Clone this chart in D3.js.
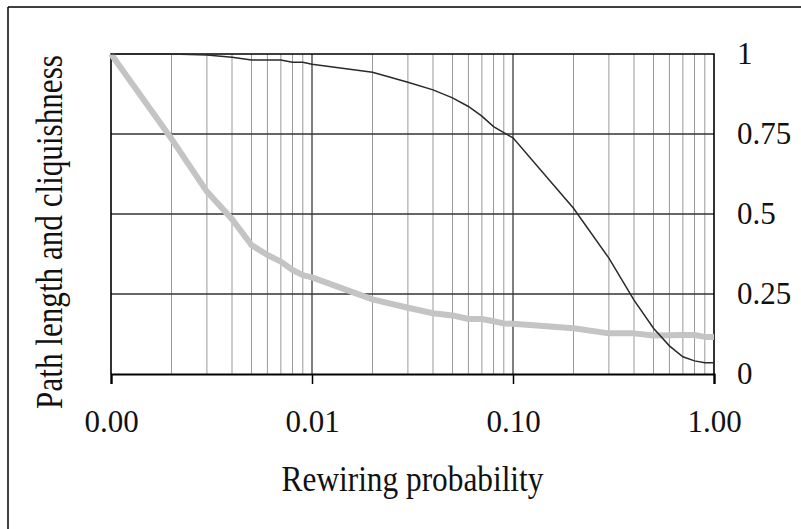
<!DOCTYPE html>
<html>
<head>
<meta charset="utf-8">
<script src="https://cdn.jsdelivr.net/npm/d3@7"></script>
<style>
  body { margin: 0; background: #fff; }
  text { font-family: "Liberation Serif", "Times New Roman", serif; fill: #111; }
</style>
</head>
<body>
<div id="chart"></div>
<script>
// Width and height
var chart_width  = 801;
var chart_height = 529;

// rewiring probabilities (x) and the two normalised curves
var probs = [0.001, 0.002, 0.003, 0.004, 0.005, 0.006, 0.007, 0.008, 0.009,
             0.01, 0.02, 0.03, 0.04, 0.05, 0.06, 0.07, 0.08, 0.09,
             0.1, 0.2, 0.3, 0.4, 0.5, 0.6, 0.7, 0.8, 0.9, 1.0];
var cliquishness = [1.0, 1.0, 0.997, 0.99, 0.981, 0.981, 0.981, 0.974, 0.974,
                    0.968, 0.943, 0.912, 0.888, 0.863, 0.836, 0.806, 0.773, 0.754,
                    0.738, 0.518, 0.362, 0.231, 0.143, 0.088, 0.054, 0.041, 0.035, 0.035];
var pathLength = [1.0, 0.735, 0.57, 0.484, 0.403, 0.372, 0.351, 0.325, 0.309,
                  0.302, 0.233, 0.207, 0.19, 0.183, 0.172, 0.172, 0.165, 0.158,
                  0.157, 0.143, 0.127, 0.127, 0.12, 0.121, 0.122, 0.122, 0.116, 0.116];
var xTickValues = [0.001, 0.01, 0.1, 1];
var yTickValues = [0, 0.25, 0.5, 0.75, 1];
var xTitle = "Rewiring probability";
var yTitle = "Path length and cliquishness";

var x = d3.scaleLog().domain([0.001, 1]).range([111, 714]);
var y = d3.scaleLinear().domain([0, 1]).range([374, 54]);

var svg = d3.select("#chart")
    .append("svg")
    .attr("width", chart_width)
    .attr("height", chart_height);

// outer frame (only left and top edges show)
svg.append("line").attr("x1", 8).attr("y1", 7).attr("x2", 8).attr("y2", chart_height)
    .attr("stroke", "#000").attr("stroke-width", 1.5);
svg.append("line").attr("x1", 8).attr("y1", 7).attr("x2", chart_width).attr("y2", 7)
    .attr("stroke", "#000").attr("stroke-width", 1.5);

// vertical grid, minor then decades
var minor = x.ticks().filter(function(d){ return xTickValues.indexOf(d) < 0; });
svg.selectAll(".vminor")
    .data(minor)
    .enter()
    .append("line")
    .attr("x1", function(d){ return x(d); })
    .attr("x2", function(d){ return x(d); })
    .attr("y1", y(1)).attr("y2", y(0))
    .attr("stroke", "#999")
    .attr("stroke-width", 1);

svg.selectAll(".vmajor")
    .data(xTickValues.slice(1, 3))
    .enter()
    .append("line")
    .attr("x1", function(d){ return x(d); })
    .attr("x2", function(d){ return x(d); })
    .attr("y1", y(1)).attr("y2", y(0))
    .attr("stroke", "#000")
    .attr("stroke-width", 1);

// horizontal grid
svg.selectAll(".hgrid")
    .data([0.25, 0.5, 0.75])
    .enter()
    .append("line")
    .attr("x1", x(0.001)).attr("x2", x(1))
    .attr("y1", function(d){ return y(d); })
    .attr("y2", function(d){ return y(d); })
    .attr("stroke", "#333")
    .attr("stroke-width", 1.3);

// plot border
svg.append("path")
    .attr("d", "M" + x(0.001) + "," + y(0) + "V" + y(1) + "H" + x(1) + "V" + y(0))
    .attr("fill", "none")
    .attr("stroke", "#000")
    .attr("stroke-width", 1.6);

// lines
var pathLine = d3.line()
    .x(function(d, i){ return x(probs[i]); })
    .y(function(d){ return y(d); });

svg.append("path")
    .datum(pathLength)
    .attr("d", pathLine)
    .attr("fill", "none")
    .attr("stroke", "#c4c4c4")
    .attr("stroke-width", 6)
    .attr("stroke-linejoin", "round");

svg.append("path")
    .datum(cliquishness)
    .attr("d", pathLine)
    .attr("fill", "none")
    .attr("stroke", "#2a2a2a")
    .attr("stroke-width", 1.5);

// x axis
var xAxis = svg.append("g")
    .attr("transform", "translate(0," + y(0) + ")")
    .call(d3.axisBottom(x)
        .tickValues(xTickValues)
        .tickSize(10)
        .tickPadding(26)
        .tickFormat(d3.format(".2f")));
xAxis.select(".domain").attr("stroke", "#000").attr("stroke-width", 2.2);
xAxis.selectAll(".tick line").attr("stroke", "#000").attr("stroke-width", 1.5);
xAxis.selectAll(".tick text")
    .attr("font-size", 31)
    .attr("font-family", "Liberation Serif")
    .attr("fill", "#111");

// y axis on the right
var yAxis = svg.append("g")
    .attr("transform", "translate(" + x(1) + ",0)")
    .call(d3.axisRight(y)
        .tickValues(yTickValues)
        .tickSize(0)
        .tickPadding(23)
        .tickFormat(function(d){ return String(d); }));
yAxis.select(".domain").remove();
yAxis.selectAll(".tick text")
    .attr("font-size", 31)
    .attr("font-family", "Liberation Serif")
    .attr("fill", "#111");

// titles
svg.append("text")
    .attr("transform", "translate(" + ((x(0.001) + x(1)) / 2) + ",491) scale(0.87,1)")
    .attr("text-anchor", "middle")
    .attr("font-size", 36)
    .text(xTitle);

svg.append("text")
    .attr("transform", "translate(62,232) rotate(-90) scale(0.82,1)")
    .attr("text-anchor", "middle")
    .attr("font-size", 38)
    .text(yTitle);
</script>
</body>
</html>
